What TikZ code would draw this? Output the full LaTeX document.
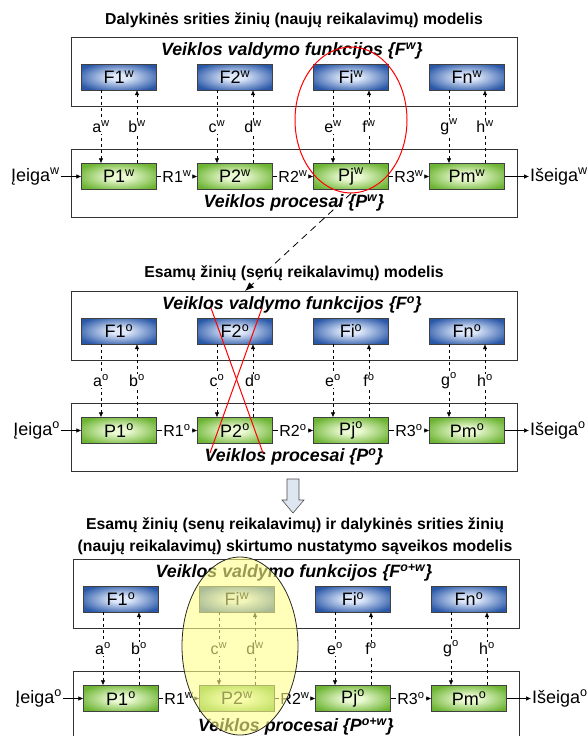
\documentclass[tikz,border=0pt]{standalone}
\usepackage{fontspec}
\setmainfont{Liberation Sans}
\usetikzlibrary{arrows.meta,shapes.geometric}
\definecolor{fedge}{RGB}{42,88,168}
\definecolor{fcore}{RGB}{222,232,250}
\definecolor{pedge}{RGB}{108,180,50}
\definecolor{pcore}{RGB}{236,250,212}
\definecolor{ringfill}{RGB}{255,255,140}
\definecolor{hollow}{RGB}{222,230,242}
\pgfdeclareradialshading{fglow}{\pgfpoint{0bp}{0bp}}{color(0bp)=(fcore); color(6bp)=(fcore); color(30bp)=(fedge); color(72bp)=(fedge)}
\pgfdeclareradialshading{pglow}{\pgfpoint{0bp}{0bp}}{color(0bp)=(pcore); color(6bp)=(pcore); color(30bp)=(pedge); color(72bp)=(pedge)}
\newcommand{\supw}{\textsuperscript{w}}
\newcommand{\supo}{\textsuperscript{o}}
\newcommand{\supow}{\textsuperscript{o+w}}

\begin{document}
\begin{tikzpicture}[x=1pt,y=-1pt,
    frame/.style={draw=black!80,line width=0.8pt},
    fbox/.style={draw=black!75,shade,shading=fglow,minimum width=75pt,minimum height=26pt,inner sep=0pt,font=\fontsize{18}{19}\selectfont},
    pbox/.style={draw=black!75,shade,shading=pglow,minimum width=75pt,minimum height=26pt,inner sep=0pt,font=\fontsize{18}{19}\selectfont},
    title/.style={font=\bfseries\fontsize{15.8}{22}\selectfont,align=center},
    head/.style={font=\bfseries\itshape\fontsize{17.8}{19}\selectfont},
    lab/.style={fill=white,inner sep=1pt,font=\fontsize{16}{17}\selectfont},
    rlab/.style={inner sep=1pt,font=\fontsize{16}{17}\selectfont},
    io/.style={inner sep=1pt,font=\fontsize{18}{19}\selectfont},
    flow/.style={line width=0.6pt,-{Latex[length=5pt,width=4.5pt]}},
    ctrl/.style={flow,dashed}]
  \useasboundingbox (0,0) rectangle (587,736);
  \clip (0,0) rectangle (587,736);

  % Top model.
  \node[title] (tw) at (294,20) {Dalykinės srities žinių (naujų reikalavimų) modelis};
  \draw[frame] (71,37) rectangle (517,106);
  \draw[frame] (71,149) rectangle (517,217);
  \node[head] (hfw) at (292,51) {Veiklos valdymo funkcijos \{F\supw\}};
  \node[head] (hpw) at (294,203) {Veiklos procesai \{P\supw\}};
  \node[fbox] (f1w) at (119,77) {F1\supw};
  \node[fbox] (f2w) at (235,77) {F2\supw};
  \node[fbox] (fiw) at (351,77) {Fi\supw};
  \node[fbox] (fnw) at (467,77) {Fn\supw};
  \node[pbox] (p1w) at (119,176.5) {P1\supw};
  \node[pbox] (p2w) at (235,176.5) {P2\supw};
  \node[pbox] (pjw) at (351,176.5) {Pj\supw};
  \node[pbox] (pmw) at (467,176.5) {Pm\supw};
  \node[io,anchor=east] (inw) at (61,176.5) {Įeiga\supw};
  \node[io,anchor=west] (outw) at (529,176.5) {Išeiga\supw};
  \node[rlab] (r1w) at (177,176.5) {R1\supw};
  \node[rlab] (r2w) at (293,176.5) {R2\supw};
  \node[rlab] (r3w) at (409,176.5) {R3\supw};
  \draw[flow] (inw) -- (p1w);
  \draw[line width=0.6pt] (p1w) -- (r1w);
  \draw[flow] (r1w) -- (p2w);
  \draw[line width=0.6pt] (p2w) -- (r2w);
  \draw[flow] (r2w) -- (pjw);
  \draw[line width=0.6pt] (pjw) -- (r3w);
  \draw[flow] (r3w) -- (pmw);
  \draw[flow] (pmw) -- (outw);
  \draw[ctrl] ([xshift=-18pt]f1w.south) -- node[lab] (aw) {a\supw} ([xshift=-18pt]p1w.north);
  \draw[ctrl] ([xshift=18pt]p1w.north) -- node[lab] (bw) {b\supw} ([xshift=18pt]f1w.south);
  \draw[ctrl] ([xshift=-18pt]f2w.south) -- node[lab] (cw) {c\supw} ([xshift=-18pt]p2w.north);
  \draw[ctrl] ([xshift=18pt]p2w.north) -- node[lab] (dw) {d\supw} ([xshift=18pt]f2w.south);
  \draw[ctrl] ([xshift=-18pt]fiw.south) -- node[lab] (ew) {e\supw} ([xshift=-18pt]pjw.north);
  \draw[ctrl] ([xshift=18pt]pjw.north) -- node[lab] (fw) {f\supw} ([xshift=18pt]fiw.south);
  \draw[ctrl] ([xshift=-18pt]fnw.south) -- node[lab] (gw) {g\supw} ([xshift=-18pt]pmw.north);
  \draw[ctrl] ([xshift=18pt]pmw.north) -- node[lab] (hw) {h\supw} ([xshift=18pt]fnw.south);
  \node[ellipse,draw=red,line width=1pt,minimum width=112pt,minimum height=146pt] (topring) at (351,120) {};

  % Existing model.
  \begin{scope}[yshift=-254pt]
    \node[title] (to) at (294,19) {Esamų žinių (senų reikalavimų) modelis};
    \draw[frame] (71,37) rectangle (517,106);
    \draw[frame] (71,149) rectangle (517,217);
    \node[head] (hfo) at (292,51) {Veiklos valdymo funkcijos \{F\supo\}};
    \node[head] (hpo) at (294,203) {Veiklos procesai \{P\supo\}};
    \node[fbox] (f1o) at (119,77) {F1\supo};
    \node[fbox] (f2o) at (235,77) {F2\supo};
    \node[fbox] (fio) at (351,77) {Fi\supo};
    \node[fbox] (fno) at (467,77) {Fn\supo};
    \node[pbox] (p1o) at (119,176.5) {P1\supo};
    \node[pbox] (p2o) at (235,176.5) {P2\supo};
    \node[pbox] (pjo) at (351,176.5) {Pj\supo};
    \node[pbox] (pmo) at (467,176.5) {Pm\supo};
    \node[io,anchor=east] (ino) at (61,176.5) {Įeiga\supo};
    \node[io,anchor=west] (outo) at (529,176.5) {Išeiga\supo};
    \node[rlab] (r1o) at (177,176.5) {R1\supo};
    \node[rlab] (r2o) at (293,176.5) {R2\supo};
    \node[rlab] (r3o) at (409,176.5) {R3\supo};
    \draw[flow] (ino) -- (p1o);
    \draw[line width=0.6pt] (p1o) -- (r1o);
    \draw[flow] (r1o) -- (p2o);
    \draw[line width=0.6pt] (p2o) -- (r2o);
    \draw[flow] (r2o) -- (pjo);
    \draw[line width=0.6pt] (pjo) -- (r3o);
    \draw[flow] (r3o) -- (pmo);
    \draw[flow] (pmo) -- (outo);
    \draw[ctrl] ([xshift=-18pt]f1o.south) -- node[lab] (ao) {a\supo} ([xshift=-18pt]p1o.north);
    \draw[ctrl] ([xshift=18pt]p1o.north) -- node[lab] (bo) {b\supo} ([xshift=18pt]f1o.south);
    \draw[ctrl] ([xshift=-18pt]f2o.south) -- node[lab] (co) {c\supo} ([xshift=-18pt]p2o.north);
    \draw[ctrl] ([xshift=18pt]p2o.north) -- node[lab] (do) {d\supo} ([xshift=18pt]f2o.south);
    \draw[ctrl] ([xshift=-18pt]fio.south) -- node[lab] (eo) {e\supo} ([xshift=-18pt]pjo.north);
    \draw[ctrl] ([xshift=18pt]pjo.north) -- node[lab] (fo) {f\supo} ([xshift=18pt]fio.south);
    \draw[ctrl] ([xshift=-18pt]fno.south) -- node[lab] (go) {g\supo} ([xshift=-18pt]pmo.north);
    \draw[ctrl] ([xshift=18pt]pmo.north) -- node[lab] (ho) {h\supo} ([xshift=18pt]fno.south);
    \coordinate (oldtop) at (245,37);
    % Cross out F2 and P2.
    \draw[red,line width=1pt] (211,54) -- (263,199);
    \draw[red,line width=1pt] (262,54) -- (210,199);
  \end{scope}
  \draw[line width=0.8pt,dash pattern=on 7pt off 5pt,-{Latex[length=9pt,width=7pt]}] (topring.south) -- (oldtop);

  % Hollow arrow.
  \draw[fill=hollow,draw=black!70,line width=0.6pt] (287,479) -- (299,479) -- (299,500) -- (304,500) -- (293,513) -- (282,500) -- (287,500) -- cycle;

  % Difference model.
  \begin{scope}[yshift=-522pt,xshift=2pt]
    \node[title] (tow) at (293,14) {Esamų žinių (senų reikalavimų) ir dalykinės srities žinių\\(naujų reikalavimų) skirtumo nustatymo sąveikos modelis};
    \draw[frame] (71,37) rectangle (517,106);
    \draw[frame] (71,220) -- (71,149) -- (517,149) -- (517,220);
    \node[head] (hfow) at (292,51) {Veiklos valdymo funkcijos \{F\supow\}};
    \node[head] (hpow) at (294,205) {Veiklos procesai \{P\supow\}};
    \node[fbox] (f1c) at (119,77) {F1\supo};
    \node[fbox] (fiwc) at (235,77) {Fi\supw};
    \node[fbox] (fic) at (351,77) {Fi\supo};
    \node[fbox] (fnc) at (467,77) {Fn\supo};
    \node[pbox] (p1c) at (119,176.5) {P1\supo};
    \node[pbox] (p2c) at (235,176.5) {P2\supw};
    \node[pbox] (pjc) at (351,176.5) {Pj\supo};
    \node[pbox] (pmc) at (467,176.5) {Pm\supo};
    \node[io,anchor=east] (inc) at (61,176.5) {Įeiga\supo};
    \node[io,anchor=west] (outc) at (529,176.5) {Išeiga\supo};
    \node[rlab] (r1c) at (177,176.5) {R1\supw};
    \node[rlab] (r2c) at (293,176.5) {R2\supw};
    \node[rlab] (r3c) at (409,176.5) {R3\supo};
    \draw[flow] (inc) -- (p1c);
    \draw[line width=0.6pt] (p1c) -- (r1c);
    \draw[flow] (r1c) -- (p2c);
    \draw[line width=0.6pt] (p2c) -- (r2c);
    \draw[flow] (r2c) -- (pjc);
    \draw[line width=0.6pt] (pjc) -- (r3c);
    \draw[flow] (r3c) -- (pmc);
    \draw[flow] (pmc) -- (outc);
    \draw[ctrl] ([xshift=-18pt]f1c.south) -- node[lab] (ac) {a\supo} ([xshift=-18pt]p1c.north);
    \draw[ctrl] ([xshift=18pt]p1c.north) -- node[lab] (bc) {b\supo} ([xshift=18pt]f1c.south);
    \draw[ctrl] ([xshift=-18pt]fiwc.south) -- node[lab] (cc) {c\supw} ([xshift=-18pt]p2c.north);
    \draw[ctrl] ([xshift=18pt]p2c.north) -- node[lab] (dc) {d\supw} ([xshift=18pt]fiwc.south);
    \draw[ctrl] ([xshift=-18pt]fic.south) -- node[lab] (ec) {e\supo} ([xshift=-18pt]pjc.north);
    \draw[ctrl] ([xshift=18pt]pjc.north) -- node[lab] (fc) {f\supo} ([xshift=18pt]fic.south);
    \draw[ctrl] ([xshift=-18pt]fnc.south) -- node[lab] (gc) {g\supo} ([xshift=-18pt]pmc.north);
    \draw[ctrl] ([xshift=18pt]pmc.north) -- node[lab] (hc) {h\supo} ([xshift=18pt]fnc.south);
    \node[ellipse,draw=black!85,line width=0.8pt,fill=ringfill,fill opacity=0.6,minimum width=116pt,minimum height=178pt] (diffring) at (238,124) {};
  \end{scope}
\end{tikzpicture}
\end{document}
